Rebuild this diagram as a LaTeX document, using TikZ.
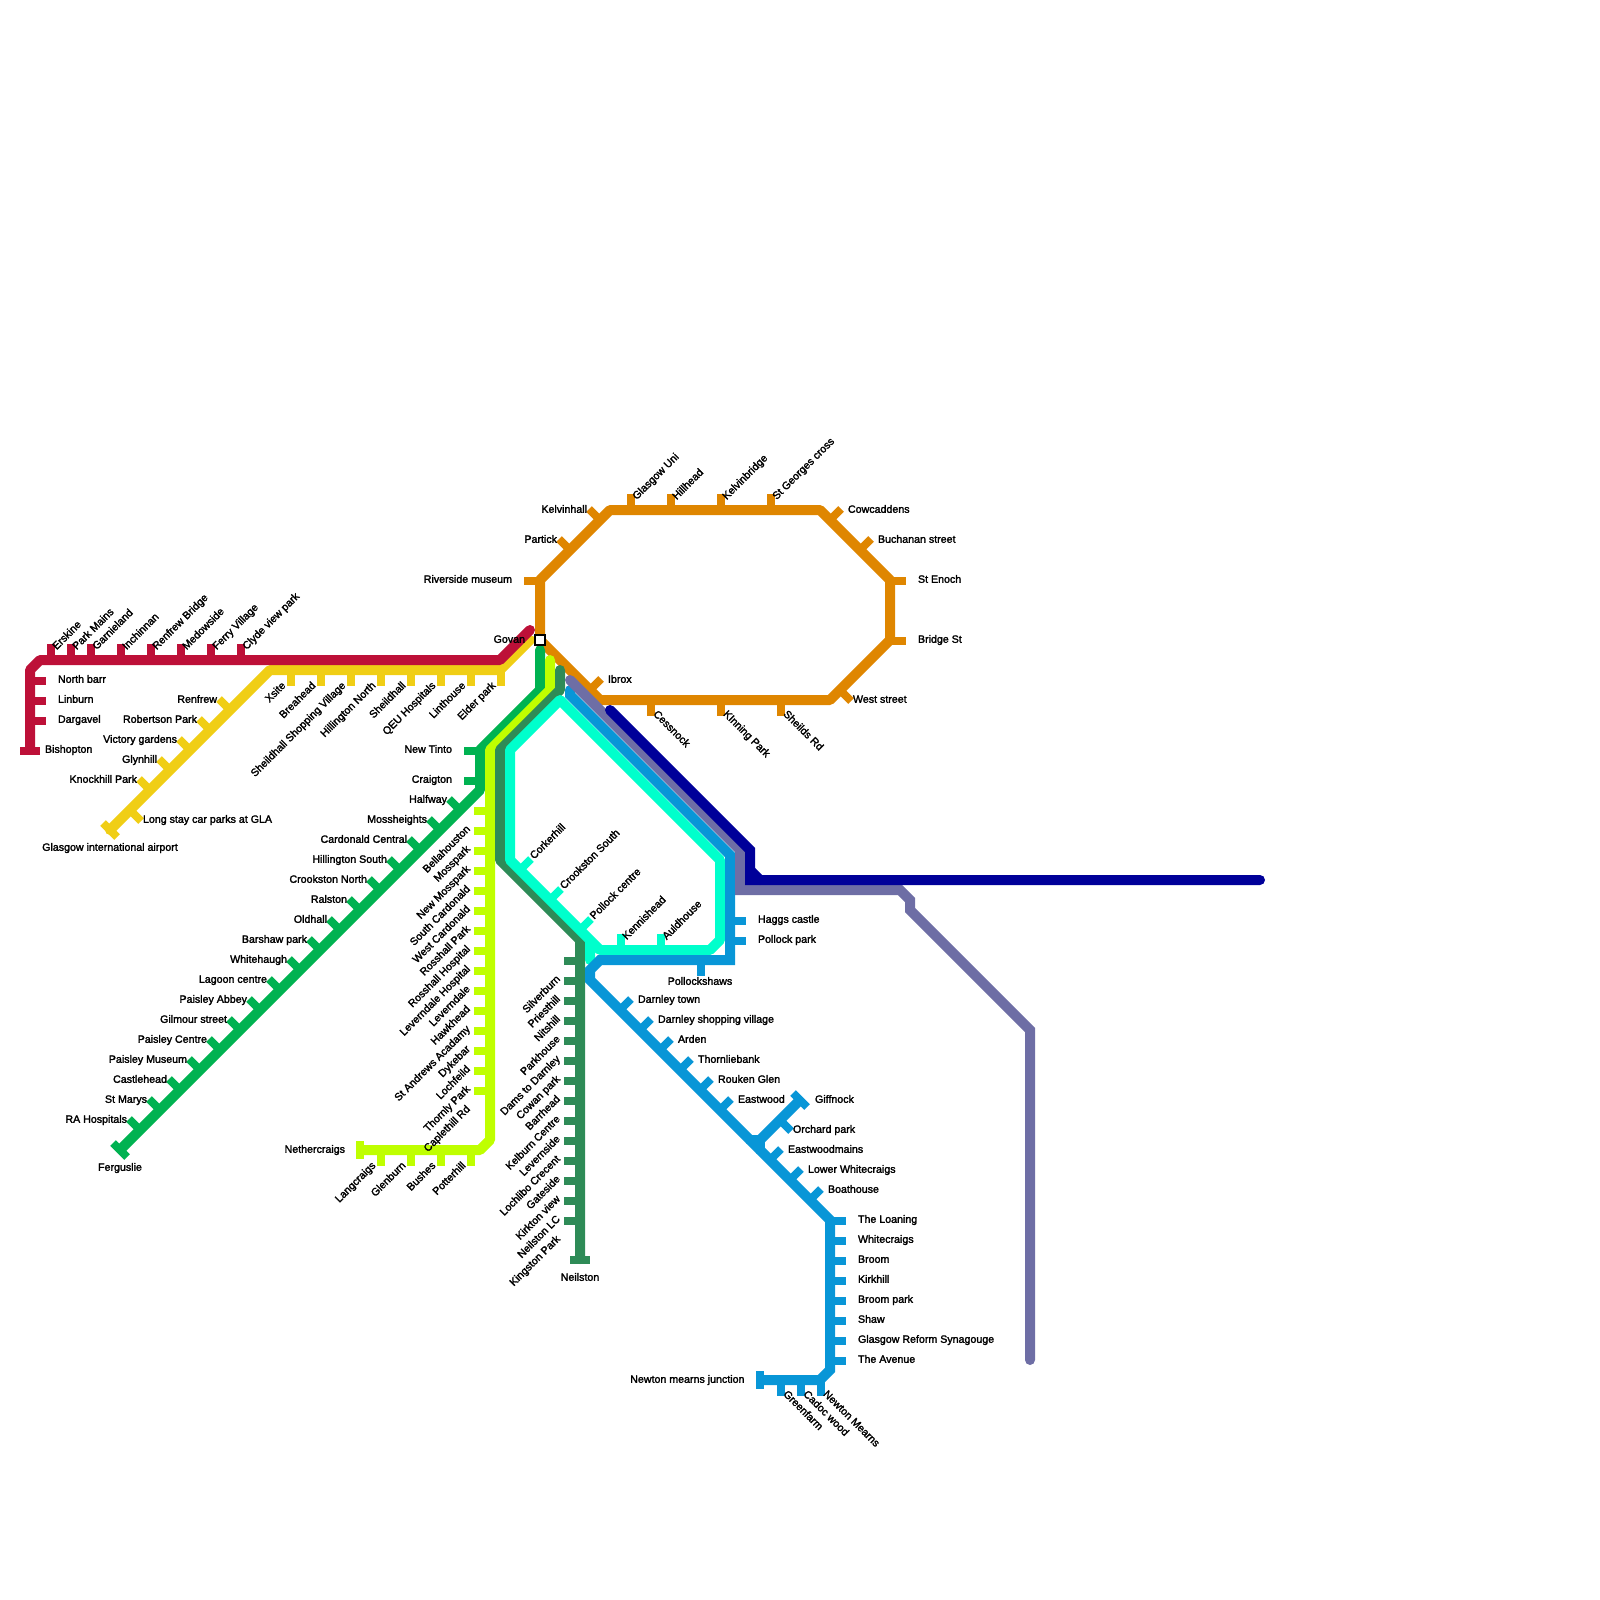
\documentclass[tikz,border=0pt]{standalone}
\usepackage{fontspec}
\usepackage{tikz}
\newfontfamily\stnfont{Liberation Sans}[FakeBold=2]
\definecolor{lnred}{HTML}{BD1038}
\definecolor{lnyellow}{HTML}{F0CE15}
\definecolor{lngreen}{HTML}{00B251}
\definecolor{lnlime}{HTML}{BFFF00}
\definecolor{lnsea}{HTML}{2E8B57}
\definecolor{lncyan}{HTML}{00FFCC}
\definecolor{lnblue}{HTML}{0896D7}
\definecolor{lnpurple}{HTML}{6E6EA5}
\definecolor{lnnavy}{HTML}{000099}
\definecolor{lnorange}{HTML}{DF8600}

\begin{document}
\begin{tikzpicture}[
  x=1pt, y=-1pt,
  rail/.style={line width=10pt, line cap=round, line join=round},
  sharp/.style={line width=10pt, line cap=round, line join=miter},
  stub/.style={line width=8pt, line cap=butt},
  vstub/.style={stub, xshift=1pt},
  hstub/.style={stub, yshift=-1pt},
  lbl/.style={font=\stnfont\fontsize{10.65}{12}\selectfont, text=black, inner sep=0pt,
              outer sep=0pt, text height=7.6pt, text depth=0pt},
  lwest/.style={lbl, anchor=east, xshift=-12pt, yshift=2pt},
  least/.style={lbl, anchor=west, xshift=12pt, yshift=2pt},
  lnw/.style={lbl, anchor=east, xshift=-2pt},
  lne/.style={lbl, anchor=west, xshift=7pt},
  lse/.style={lbl, anchor=west, xshift=2pt, yshift=2pt},
  tup/.style={lbl, xshift=3pt, yshift=-3.5pt, rotate=45, anchor=west},
  tdn/.style={lbl, xshift=-7.5pt, yshift=2.5pt, rotate=45, anchor=east},
  tcol/.style={lbl, xshift=-6pt, yshift=-16pt, rotate=45, anchor=east},
  tdiag/.style={lbl, xshift=0.5pt, yshift=2pt, rotate=45, anchor=west},
  tse/.style={lbl, xshift=4.5pt, yshift=4pt, rotate=-45, anchor=west}]
  \useasboundingbox (0,0) rectangle (1600,1600);
  \coordinate (orangeS) at (540,640);
  \coordinate (redW) at (30,749);
  \coordinate (redE) at (530,630);
  \coordinate (yellowW) at (110,830);
  \coordinate (greenN) at (540,650);
  \coordinate (greenS) at (121,1149);
  \coordinate (limeN) at (550,660);
  \coordinate (limeW) at (361,1150);
  \coordinate (seaN) at (560,670);
  \coordinate (seaS) at (580,1259);
  \coordinate (cyanS) at (590,960);
  \coordinate (blueN) at (570,690);
  \coordinate (blueW) at (761,1380);
  \coordinate (giffnockEnd) at (799,1101);
  \coordinate (purpleN) at (570,680);
  \coordinate (purpleS) at (1030,1360);
  \coordinate (navyW) at (610,710);
  \coordinate (navyE) at (1260,880);

  \draw[rail, draw=lnorange] (orangeS) -- (540,580) -- (610,510) -- (820,510) -- (890,580)
      -- (890,640) -- (830,700) -- (600,700) -- cycle;
  \draw[hstub, draw=lnorange] (540,580) -- ++(-16,0) node[lwest] (riverside) {Riverside museum};
  \draw[stub, draw=lnorange] (570,550) -- ++(-11,-11) node[lnw] (partick) {Partick};
  \draw[stub, draw=lnorange] (600,520) -- ++(-11,-11) node[lnw] (kelvinhall) {Kelvinhall};
  \draw[vstub, draw=lnorange] (630,510) -- ++(0,-16) node[tup] (glasgowuni) {Glasgow Uni};
  \draw[vstub, draw=lnorange] (670,510) -- ++(0,-16) node[tup] (hillhead) {Hillhead};
  \draw[vstub, draw=lnorange] (720,510) -- ++(0,-16) node[tup] (kelvinbridge) {Kelvinbridge};
  \draw[vstub, draw=lnorange] (770,510) -- ++(0,-16) node[tup] (stgeorges) {St Georges cross};
  \draw[stub, draw=lnorange] (830,520) -- ++(11,-11) node[lne] (cowcaddens) {Cowcaddens};
  \draw[stub, draw=lnorange] (860,550) -- ++(11,-11) node[lne] (buchanan) {Buchanan street};
  \draw[hstub, draw=lnorange] (890,580) -- ++(16,0) node[least] (stenoch) {St Enoch};
  \draw[hstub, draw=lnorange] (890,640) -- ++(16,0) node[least] (bridgest) {Bridge St};
  \draw[stub, draw=lnorange] (840,690) -- ++(11,11) node[lse] (weststreet) {West street};
  \draw[vstub, draw=lnorange] (780,700) -- ++(0,16) node[tse] (sheilds) {Sheilds Rd};
  \draw[vstub, draw=lnorange] (720,700) -- ++(0,16) node[tse] (kinning) {KInning Park};
  \draw[vstub, draw=lnorange] (650,700) -- ++(0,16) node[tse] (cessnock) {Cessnock};
  \draw[stub, draw=lnorange] (590,690) -- ++(11,-11) node[lne] (ibrox) {Ibrox};

  \draw[rail, draw=lnyellow] (yellowW) -- (270,670) -- (500,670) -- (530,640);
  \draw[stub, draw=lnyellow] (103,823) -- (117,837);
  \node[lbl] (airport) at (110,847) {Glasgow international airport};
  \draw[stub, draw=lnyellow] (130,810) -- ++(11,11) node[lse] (longstay) {Long stay car parks at GLA};
  \draw[stub, draw=lnyellow] (150,790) -- ++(-11,-11) node[lnw] (knockhill) {Knockhill Park};
  \draw[stub, draw=lnyellow] (170,770) -- ++(-11,-11) node[lnw] (glynhill) {Glynhill};
  \draw[stub, draw=lnyellow] (190,750) -- ++(-11,-11) node[lnw] (victory) {Victory gardens};
  \draw[stub, draw=lnyellow] (210,730) -- ++(-11,-11) node[lnw] (robertson) {Robertson Park};
  \draw[stub, draw=lnyellow] (230,710) -- ++(-11,-11) node[lnw] (renfrew) {Renfrew};
  \draw[vstub, draw=lnyellow] (290,670) -- ++(0,16) node[tdn] (xsite) {Xsite};
  \draw[vstub, draw=lnyellow] (320,670) -- ++(0,16) node[tdn] (breahead) {Breahead};
  \draw[vstub, draw=lnyellow] (350,670) -- ++(0,16) node[tdn] (shopping) {Sheildhall Shopping Village};
  \draw[vstub, draw=lnyellow] (380,670) -- ++(0,16) node[tdn] (hillingtonn) {Hillington North};
  \draw[vstub, draw=lnyellow] (410,670) -- ++(0,16) node[tdn] (sheildhall) {Sheildhall};
  \draw[vstub, draw=lnyellow] (440,670) -- ++(0,16) node[tdn] (qeu) {QEU Hospitals};
  \draw[vstub, draw=lnyellow] (470,670) -- ++(0,16) node[tdn] (linthouse) {Linthouse};
  \draw[vstub, draw=lnyellow] (500,670) -- ++(0,16) node[tdn] (elder) {Elder park};

  \draw[rail, draw=lnred] (redW) -- (30,670) -- (40,660) -- (500,660) -- (redE);
  \draw[hstub, draw=lnred] (20,750) -- (40,750);
  \node[lbl, anchor=west] (bishopton) at (45,749) {Bishopton};
  \draw[hstub, draw=lnred] (30,680) -- ++(16,0) node[least] (northbarr) {North barr};
  \draw[hstub, draw=lnred] (30,700) -- ++(16,0) node[least] (linburn) {Linburn};
  \draw[hstub, draw=lnred] (30,720) -- ++(16,0) node[least] (dargavel) {Dargavel};
  \draw[vstub, draw=lnred] (50,660) -- ++(0,-16) node[tup] (erskine) {Erskine};
  \draw[vstub, draw=lnred] (70,660) -- ++(0,-16) node[tup] (parkmains) {Park Mains};
  \draw[vstub, draw=lnred] (90,660) -- ++(0,-16) node[tup] (garnieland) {Garnieland};
  \draw[vstub, draw=lnred] (120,660) -- ++(0,-16) node[tup] (inchinnan) {Inchinnan};
  \draw[vstub, draw=lnred] (150,660) -- ++(0,-16) node[tup] (renfrewbr) {Renfrew Bridge};
  \draw[vstub, draw=lnred] (180,660) -- ++(0,-16) node[tup] (medowside) {Medowside};
  \draw[vstub, draw=lnred] (210,660) -- ++(0,-16) node[tup] (ferry) {Ferry Village};
  \draw[vstub, draw=lnred] (240,660) -- ++(0,-16) node[tup] (clyde) {Clyde view park};

  \draw[rail, draw=lngreen] (greenN) -- (540,690) -- (480,750) -- (480,790) -- (greenS);
  \draw[stub, draw=lngreen] (113,1143) -- (127,1157);
  \node[lbl] (ferguslie) at (120,1167) {Ferguslie};
  \draw[hstub, draw=lngreen] (480,750) -- ++(-16,0) node[lwest] (newtinto) {New Tinto};
  \draw[hstub, draw=lngreen] (480,780) -- ++(-16,0) node[lwest] (craigton) {Craigton};
  \draw[stub, draw=lngreen] (460,810) -- ++(-11,-11) node[lnw] (halfway) {Halfway};
  \draw[stub, draw=lngreen] (440,830) -- ++(-11,-11) node[lnw] (mossheights) {Mossheights};
  \draw[stub, draw=lngreen] (420,850) -- ++(-11,-11) node[lnw] (cardonald) {Cardonald Central};
  \draw[stub, draw=lngreen] (400,870) -- ++(-11,-11) node[lnw] (hillingtons) {Hillington South};
  \draw[stub, draw=lngreen] (380,890) -- ++(-11,-11) node[lnw] (crookstonn) {Crookston North};
  \draw[stub, draw=lngreen] (360,910) -- ++(-11,-11) node[lnw] (ralston) {Ralston};
  \draw[stub, draw=lngreen] (340,930) -- ++(-11,-11) node[lnw] (oldhall) {Oldhall};
  \draw[stub, draw=lngreen] (320,950) -- ++(-11,-11) node[lnw] (barshaw) {Barshaw park};
  \draw[stub, draw=lngreen] (300,970) -- ++(-11,-11) node[lnw] (whitehaugh) {Whitehaugh};
  \draw[stub, draw=lngreen] (280,990) -- ++(-11,-11) node[lnw] (lagoon) {Lagoon centre};
  \draw[stub, draw=lngreen] (260,1010) -- ++(-11,-11) node[lnw] (abbey) {Paisley Abbey};
  \draw[stub, draw=lngreen] (240,1030) -- ++(-11,-11) node[lnw] (gilmour) {Gilmour street};
  \draw[stub, draw=lngreen] (220,1050) -- ++(-11,-11) node[lnw] (paisleyc) {Paisley Centre};
  \draw[stub, draw=lngreen] (200,1070) -- ++(-11,-11) node[lnw] (museum) {Paisley Museum};
  \draw[stub, draw=lngreen] (180,1090) -- ++(-11,-11) node[lnw] (castlehead) {Castlehead};
  \draw[stub, draw=lngreen] (160,1110) -- ++(-11,-11) node[lnw] (stmarys) {St Marys};
  \draw[stub, draw=lngreen] (140,1130) -- ++(-11,-11) node[lnw] (rahosp) {RA Hospitals};

  \draw[rail, draw=lnlime] (limeN) -- (550,690) -- (490,750) -- (490,1140) -- (480,1150) -- (limeW);
  \draw[stub, draw=lnlime] (360,1141) -- (360,1159);
  \node[lbl, anchor=east] (nethercraigs) at (345,1149) {Nethercraigs};
  \draw[vstub, draw=lnlime] (380,1150) -- ++(0,16) node[tdn] (langcraigs) {Langcraigs};
  \draw[vstub, draw=lnlime] (410,1150) -- ++(0,16) node[tdn] (glenburn) {Glenburn};
  \draw[vstub, draw=lnlime] (440,1150) -- ++(0,16) node[tdn] (bushes) {Bushes};
  \draw[vstub, draw=lnlime] (470,1150) -- ++(0,16) node[tdn] (potterhill) {Potterhill};
  \draw[hstub, draw=lnlime] (490,810) -- ++(-16,0) node[tcol] (bellahouston) {Bellahouston};
  \draw[hstub, draw=lnlime] (490,830) -- ++(-16,0) node[tcol] (mosspark) {Mosspark};
  \draw[hstub, draw=lnlime] (490,850) -- ++(-16,0) node[tcol] (newmoss) {New Mosspark};
  \draw[hstub, draw=lnlime] (490,870) -- ++(-16,0) node[tcol] (southcard) {South Cardonald};
  \draw[hstub, draw=lnlime] (490,890) -- ++(-16,0) node[tcol] (westcard) {West Cardonald};
  \draw[hstub, draw=lnlime] (490,910) -- ++(-16,0) node[tcol] (rosshallp) {Rosshall Park};
  \draw[hstub, draw=lnlime] (490,930) -- ++(-16,0) node[tcol] (rosshallh) {Rosshall Hospital};
  \draw[hstub, draw=lnlime] (490,950) -- ++(-16,0) node[tcol] (leverndaleh) {Leverndale Hospital};
  \draw[hstub, draw=lnlime] (490,970) -- ++(-16,0) node[tcol] (leverndale) {Leverndale};
  \draw[hstub, draw=lnlime] (490,990) -- ++(-16,0) node[tcol] (hawkhead) {Hawkhead};
  \draw[hstub, draw=lnlime] (490,1010) -- ++(-16,0) node[tcol] (standrews) {St Andrews Acadamy};
  \draw[hstub, draw=lnlime] (490,1030) -- ++(-16,0) node[tcol] (dykebar) {Dykebar};
  \draw[hstub, draw=lnlime] (490,1050) -- ++(-16,0) node[tcol] (lochfeild) {Lochfeild};
  \draw[hstub, draw=lnlime] (490,1070) -- ++(-16,0) node[tcol] (thornly) {Thornly Park};
  \draw[hstub, draw=lnlime] (490,1090) -- ++(-16,0) node[tcol] (caplethill) {Caplethill Rd};

  \draw[rail, draw=lnsea] (seaN) -- (560,690) -- (500,750) -- (500,860) -- (580,940) -- (seaS);
  \draw[stub, draw=lnsea] (570,1260) -- (590,1260);
  \node[lbl] (neilston) at (580,1277) {Neilston};
  \draw[hstub, draw=lnsea] (580,960) -- ++(-16,0) node[tcol] (silverburn) {Silverburn};
  \draw[hstub, draw=lnsea] (580,980) -- ++(-16,0) node[tcol] (priesthill) {Priesthill};
  \draw[hstub, draw=lnsea] (580,1000) -- ++(-16,0) node[tcol] (nitshill) {Nitshill};
  \draw[hstub, draw=lnsea] (580,1020) -- ++(-16,0) node[tcol] (parkhouse) {Parkhouse};
  \draw[hstub, draw=lnsea] (580,1040) -- ++(-16,0) node[tcol] (dams) {Dams to Darnley};
  \draw[hstub, draw=lnsea] (580,1060) -- ++(-16,0) node[tcol] (cowan) {Cowan park};
  \draw[hstub, draw=lnsea] (580,1080) -- ++(-16,0) node[tcol] (barrhead) {Barrhead};
  \draw[hstub, draw=lnsea] (580,1100) -- ++(-16,0) node[tcol] (kelburn) {Kelburn Centre};
  \draw[hstub, draw=lnsea] (580,1120) -- ++(-16,0) node[tcol] (levernside) {Levernside};
  \draw[hstub, draw=lnsea] (580,1140) -- ++(-16,0) node[tcol] (lochlibo) {Lochlibo Crecent};
  \draw[hstub, draw=lnsea] (580,1160) -- ++(-16,0) node[tcol] (gateside) {Gateside};
  \draw[hstub, draw=lnsea] (580,1180) -- ++(-16,0) node[tcol] (kirkton) {Kirkton view};
  \draw[hstub, draw=lnsea] (580,1200) -- ++(-16,0) node[tcol] (neilstonlc) {Neilston LC};
  \draw[hstub, draw=lnsea] (580,1220) -- ++(-16,0) node[tcol] (kingston) {Kingston Park};

  \draw[rail, draw=lncyan] (cyanS) -- (590,940) -- (510,860) -- (510,750) -- (560,700) -- (720,860)
      -- (720,940) -- (710,950) -- (600,950) -- (590,940);
  \draw[stub, draw=lncyan] (520,870) -- ++(11,-11) node[tdiag] (corkerhill) {Corkerhill};
  \draw[stub, draw=lncyan] (550,900) -- ++(11,-11) node[tdiag] (crookstons) {Crookston South};
  \draw[stub, draw=lncyan] (580,930) -- ++(11,-11) node[tdiag] (pollockc) {Pollock centre};
  \draw[vstub, draw=lncyan] (620,950) -- ++(0,-16) node[tup] (kennishead) {Kennishead};
  \draw[vstub, draw=lncyan] (660,950) -- ++(0,-16) node[tup] (auldhouse) {Auldhouse};

  \draw[sharp, draw=lnblue] (blueN) -- (570,695) -- (730,855) -- (730,960) -- (600,960) -- (590,970)
      -- (590,980) -- (830,1220) -- (830,1370) -- (820,1380) -- (blueW);
  \draw[sharp, draw=lnblue] (750,1140) -- (760,1140) -- (giffnockEnd);
  \draw[sharp, draw=lnblue] (760,1140) -- (760,1150);
  \draw[stub, draw=lnblue] (793,1093) -- (807,1107);
  \node[lbl, anchor=west] (giffnock) at (815,1099) {Giffnock};
  \draw[stub, draw=lnblue] (780,1120) -- ++(11,11) node[lse] (orchard) {Orchard park};
  \draw[hstub, draw=lnblue] (730,920) -- ++(16,0) node[least] (haggs) {Haggs castle};
  \draw[hstub, draw=lnblue] (730,940) -- ++(16,0) node[least] (pollockp) {Pollock park};
  \draw[vstub, draw=lnblue] (700,960) -- ++(0,16) node[lbl, anchor=center, xshift=-1pt, yshift=-5pt] (pollockshaws) {Pollockshaws};
  \draw[stub, draw=lnblue] (620,1010) -- ++(11,-11) node[lne] (darnleyt) {Darnley town};
  \draw[stub, draw=lnblue] (640,1030) -- ++(11,-11) node[lne] (darnleys) {Darnley shopping village};
  \draw[stub, draw=lnblue] (660,1050) -- ++(11,-11) node[lne] (arden) {Arden};
  \draw[stub, draw=lnblue] (680,1070) -- ++(11,-11) node[lne] (thornliebank) {Thornliebank};
  \draw[stub, draw=lnblue] (700,1090) -- ++(11,-11) node[lne] (rouken) {Rouken Glen};
  \draw[stub, draw=lnblue] (720,1110) -- ++(11,-11) node[lne] (eastwood) {Eastwood};
  \draw[stub, draw=lnblue] (770,1160) -- ++(11,-11) node[lne] (eastwoodm) {Eastwoodmains};
  \draw[stub, draw=lnblue] (790,1180) -- ++(11,-11) node[lne] (lowerw) {Lower Whitecraigs};
  \draw[stub, draw=lnblue] (810,1200) -- ++(11,-11) node[lne] (boathouse) {Boathouse};
  \draw[hstub, draw=lnblue] (830,1220) -- ++(16,0) node[least] (loaning) {The Loaning};
  \draw[hstub, draw=lnblue] (830,1240) -- ++(16,0) node[least] (whitecraigs) {Whitecraigs};
  \draw[hstub, draw=lnblue] (830,1260) -- ++(16,0) node[least] (broom) {Broom};
  \draw[hstub, draw=lnblue] (830,1280) -- ++(16,0) node[least] (kirkhill) {Kirkhill};
  \draw[hstub, draw=lnblue] (830,1300) -- ++(16,0) node[least] (broompark) {Broom park};
  \draw[hstub, draw=lnblue] (830,1320) -- ++(16,0) node[least] (shaw) {Shaw};
  \draw[hstub, draw=lnblue] (830,1340) -- ++(16,0) node[least] (synagogue) {Glasgow Reform Synagouge};
  \draw[hstub, draw=lnblue] (830,1360) -- ++(16,0) node[least] (avenue) {The Avenue};
  \draw[vstub, draw=lnblue] (820,1380) -- ++(0,16) node[tse] (newtonm) {Newton Mearns};
  \draw[vstub, draw=lnblue] (800,1380) -- ++(0,16) node[tse] (cadoc) {Cadoc wood};
  \draw[vstub, draw=lnblue] (780,1380) -- ++(0,16) node[tse] (greenfarm) {Greenfarm};
  \draw[stub, draw=lnblue] (760,1371) -- (760,1389);
  \node[lbl, anchor=east] (newtonj) at (744.5,1379) {Newton mearns junction};

  \draw[sharp, draw=lnpurple] (purpleN) -- (740,850) -- (740,890) -- (900,890) -- (910,900) -- (910,910)
      -- (1030,1030) -- (purpleS);
  \draw[sharp, draw=lnnavy] (navyW) -- (750,850) -- (750,880) -- (navyE);
  \draw[sharp, draw=lnnavy] (750,870) -- (760,880);

  \node[draw=black, fill=white, line width=2pt, minimum size=10pt, inner sep=0pt] (govan) at (orangeS) {};
  \node[lbl, anchor=east] (govantext) at (525,639) {Govan};
\end{tikzpicture}
\end{document}
